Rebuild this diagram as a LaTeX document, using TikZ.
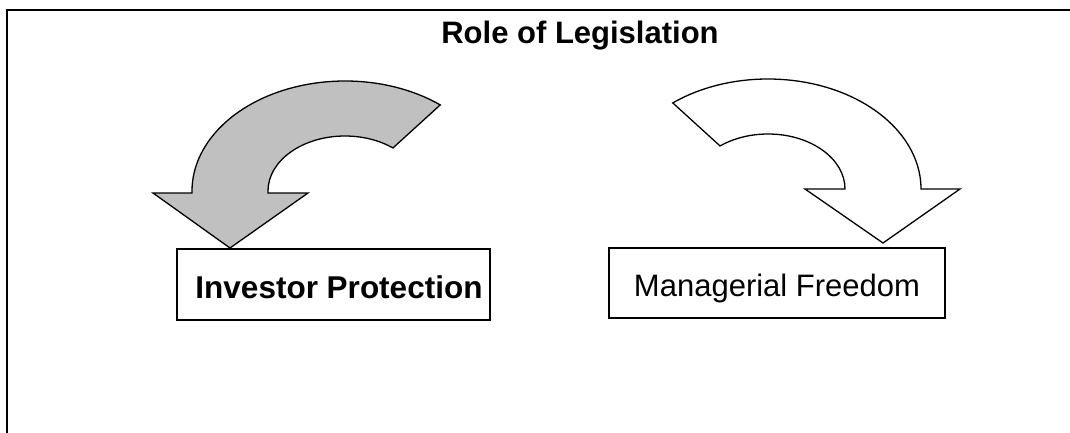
\documentclass[tikz,border=0pt]{standalone}
\usepackage{fontspec}
\setmainfont{Liberation Sans}
\definecolor{arrowgray}{RGB}{192,192,192}
\tikzset{
    labelbox/.style={draw, line width=1.5pt, inner sep=0pt, text height=27pt, text depth=0pt},
    bendarrow/.style={draw, line width=1.3pt, line join=miter},
}
\begin{document}
\begin{tikzpicture}[x=1pt, y=1pt]
    \useasboundingbox (0,0) rectangle (1070,432);
    \clip (0,0) rectangle (1070,432);

    % --- Frame (runs off the page at the right and bottom) ---
    \draw[line width=2pt] (7,-5) -- (7,422) -- (1080,422);

    % --- Title ---
    \node[anchor=base, font=\bfseries\fontsize{31}{37}\selectfont] (title) at (580,388) {Role of Legislation};

    % --- Boxes ---
    \node[labelbox, minimum width=313pt, minimum height=71pt] (invest) at (333.5,147.5) {};
    \node[anchor=base, font=\bfseries\fontsize{31.5}{37}\selectfont] (investtext) at (339,134) {Investor Protection};
    \node[labelbox, minimum width=336pt, minimum height=70pt, font=\fontsize{31}{37}\selectfont] (manage) at (777,149) {Managerial Freedom};

    % --- Left arrow: grey, bending down to the left ---
    \begin{scope}[shift={(345,241)}]
        \coordinate (ltip) at (-115,-57);
        \filldraw[bendarrow, fill=arrowgray] (51.5:153 and 110)
            arc[start angle=51.5, end angle=180, x radius=153, y radius=110]
            -- (-153,-2) -- (-192,-2) -- (ltip) -- (-37,-2) -- (-77,-2) -- (-77,0)
            arc[start angle=180, end angle=51.5, x radius=77, y radius=55] -- cycle;
    \end{scope}

    % --- Right arrow: white, bending down to the right ---
    \begin{scope}[shift={(768,243)}]
        \coordinate (rtip) at (115,-54);
        \filldraw[bendarrow, fill=white] (128.5:153 and 110)
            arc[start angle=128.5, end angle=0, x radius=153, y radius=110]
            -- (192,0) -- (rtip) -- (37,0) -- (77,0)
            arc[start angle=0, end angle=128.5, x radius=77, y radius=55] -- cycle;
    \end{scope}
\end{tikzpicture}
\end{document}
